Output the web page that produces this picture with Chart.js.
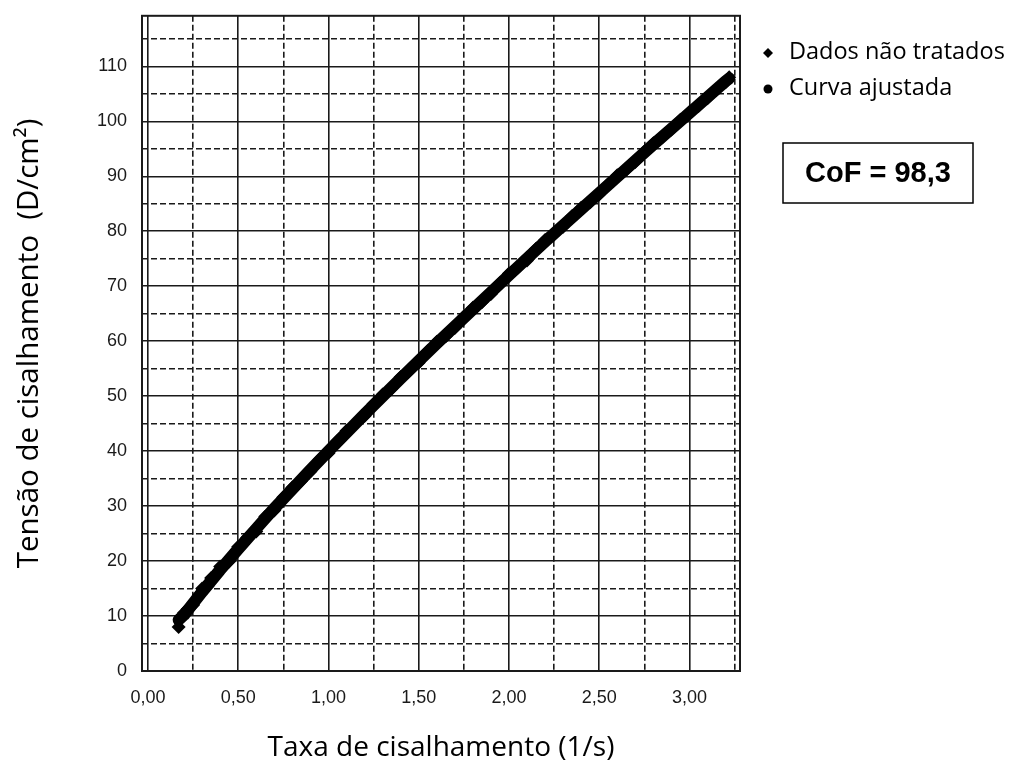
<!DOCTYPE html>
<html>
<head>
<meta charset="utf-8">
<script src="https://cdn.jsdelivr.net/npm/chart.js@4"></script>
<style>
  body { margin: 0; background: #fff; }
  canvas { display: block; }
</style>
</head>
<body>
<canvas id="grafico" width="1016" height="771"></canvas>
<script>
// dados
const rawX = [0.17, 0.18, 0.2, 0.22, 0.25, 0.28, 0.3, 0.33, 0.35, 0.38, 0.4, 0.43, 0.45, 0.5, 0.55,
  0.6, 0.65, 0.7, 0.75, 0.8, 0.85, 0.9, 0.95, 1.0, 1.05, 1.1, 1.15, 1.2, 1.25, 1.3,
  1.35, 1.4, 1.45, 1.5, 1.55, 1.6, 1.65, 1.7, 1.75, 1.8, 1.85, 1.9, 1.95, 2.0, 2.05,
  2.1, 2.15, 2.2, 2.25, 2.3, 2.35, 2.4, 2.45, 2.5, 2.55, 2.6, 2.65, 2.7, 2.75, 2.8,
  2.85, 2.9, 2.95, 3.0, 3.05, 3.1, 3.15, 3.2, 3.22];
const rawY = [8.0, 9.6, 10.6, 11.3, 12.0, 13.6, 15.0, 15.4, 16.9, 17.5, 19.0, 19.6, 19.9, 22.6, 24.3,
  25.4, 28.1, 29.2, 31.6, 33.4, 34.6, 36.3, 38.5, 39.6, 41.9, 43.7, 45.0, 46.4, 48.6, 50.3,
  51.4, 53.5, 54.7, 56.1, 58.2, 59.9, 60.9, 62.4, 64.5, 66.1, 67.1, 68.6, 70.6, 72.3, 73.4,
  74.7, 76.8, 78.4, 79.4, 80.8, 82.8, 84.3, 85.3, 86.7, 88.6, 90.2, 91.2, 92.6, 94.5, 96.0,
  97.1, 98.5, 100.3, 101.7, 102.8, 104.2, 105.9, 107.1, 108.0];

const fitX = [0.17, 0.2, 0.25, 0.3, 0.35, 0.4, 0.5, 0.6, 0.7, 0.8, 0.9, 1.0, 1.2, 1.4, 1.6,
  1.8, 2.0, 2.2, 2.4, 2.6, 2.8, 3.0, 3.2, 3.22];
const fitY = [9.3, 10.2, 12.3, 14.4, 16.4, 18.4, 22.2, 25.9, 29.6, 33.1, 36.6, 40.0, 46.7, 53.2, 59.6,
  65.8, 72.0, 78.1, 84.0, 89.9, 95.8, 101.5, 107.3, 107.8];

const seriesNames = ["Dados não tratados", "Curva ajustada"];
const cofText = "CoF = 98,3";
const xTitle = "Taxa de cisalhamento (1/s)";
const yTitle = "Tensão de cisalhamento  (D/cm²)";

const toPts = (xs, ys) => xs.map((x, i) => ({ x: x, y: ys[i] }));
const ink = "#1a1a1a";

const legendaLateral = {
  id: "legendaLateral",
  afterDraw(chart) {
    const c = chart.ctx;
    const a = chart.chartArea;
    c.save();
    // moldura do grafico
    c.strokeStyle = ink;
    c.lineWidth = 2;
    c.setLineDash([]);
    c.strokeRect(a.left, a.top, a.right - a.left, a.bottom - a.top);

    // legenda
    c.fillStyle = "#000";
    c.strokeStyle = "#000";
    c.font = "23.5px 'Open Sans'";
    c.textBaseline = "middle";
    c.textAlign = "left";
    Chart.helpers.drawPoint(c, { pointStyle: "rectRot", radius: 5, borderWidth: 0 }, 768, 53);
    c.fillText(seriesNames[0], 789, 52);
    Chart.helpers.drawPoint(c, { pointStyle: "circle", radius: 4.5, borderWidth: 0 }, 768, 89);
    c.fillText(seriesNames[1], 789, 88);

    // caixa CoF
    c.lineWidth = 1.5;
    c.strokeRect(783, 143, 190, 60);
    c.font = "bold 29px 'Liberation Sans'";
    c.textAlign = "center";
    c.fillText(cofText, 878, 174);
    c.restore();
  }
};

new Chart(document.getElementById("grafico").getContext("2d"), {
  type: "scatter",
  data: {
    datasets: [
      {
        label: seriesNames[0],
        data: toPts(rawX, rawY),
        pointStyle: "rectRot",
        pointRadius: 7,
        backgroundColor: "#000",
        borderColor: "#000",
        borderWidth: 0
      },
      {
        label: seriesNames[1],
        data: toPts(fitX, fitY),
        showLine: true,
        pointRadius: 0,
        borderColor: "#000",
        backgroundColor: "#000",
        borderWidth: 12,
        borderCapStyle: "round",
        borderJoinStyle: "round"
      }
    ]
  },
  options: {
    responsive: false,
    animation: false,
    layout: { padding: { left: 0, top: 12, right: 276, bottom: 0 } },
    plugins: {
      legend: { display: false },
      tooltip: { enabled: false }
    },
    scales: {
      x: {
        type: "linear",
        min: -0.033,
        max: 3.28,
        afterFit: (s) => { s.height = 100; },
        ticks: {
          stepSize: 0.25,
          includeBounds: false,
          padding: 16,
          color: ink,
          font: { family: "'Liberation Sans'", size: 18 },
          maxRotation: 0,
          autoSkip: false,
          callback: (v) => Math.abs(v * 2 - Math.round(v * 2)) < 1e-9 ? v.toFixed(2).replace(".", ",") : ""
        },
        grid: {
          color: ink,
          lineWidth: 1.6,
          drawTicks: false
        },
        border: {
          display: false,
          dash: (c) => (c.tick && Math.abs(c.tick.value * 2 - Math.round(c.tick.value * 2)) > 1e-9) ? [6, 3] : []
        },
        title: {
          display: true,
          text: xTitle,
          color: "#000",
          font: { family: "'Open Sans'", size: 28 },
          padding: { top: 0, bottom: 6 }
        }
      },
      y: {
        min: 0,
        max: 119.2,
        afterFit: (s) => { s.width = 142; },
        ticks: {
          stepSize: 5,
          includeBounds: false,
          padding: 5,
          color: ink,
          font: { family: "'Liberation Sans'", size: 18 },
          autoSkip: false,
          callback: (v) => v % 10 === 0 ? String(v) : ""
        },
        grid: {
          color: ink,
          lineWidth: 1.6,
          drawTicks: true,
          tickLength: 10,
          tickColor: "rgba(0,0,0,0)"
        },
        border: {
          display: false,
          dash: (c) => (c.tick && c.tick.value % 10 !== 0) ? [6, 3] : []
        },
        title: {
          display: true,
          text: yTitle,
          color: "#000",
          font: { family: "'Open Sans'", size: 29.5 },
          padding: { top: 12, bottom: 0 }
        }
      }
    }
  },
  plugins: [legendaLateral]
});
</script>
</body>
</html>
